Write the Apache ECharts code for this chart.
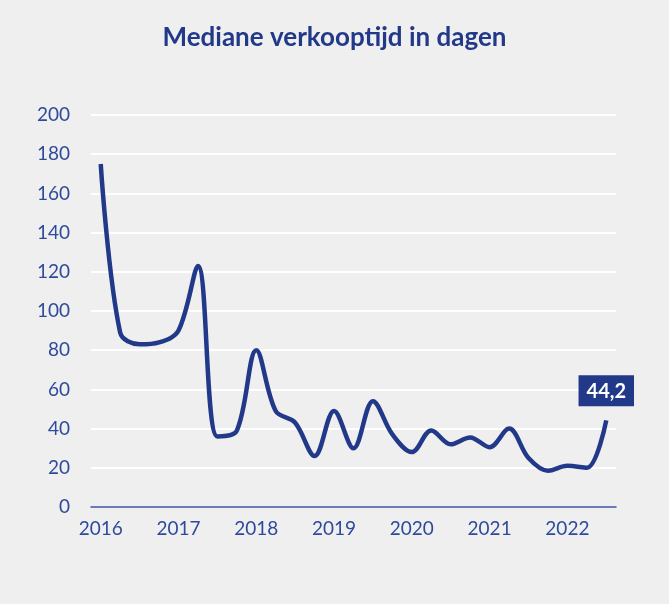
<!DOCTYPE html>
<html><head><meta charset="utf-8">
<script src="https://cdn.jsdelivr.net/npm/echarts@6/dist/echarts.min.js"></script>
<style>html,body{margin:0;padding:0;background:#efefef;}#c{width:669px;height:604px;}</style>
</head><body><div id="c"></div>
<script>
const title = 'Mediane verkooptijd in dagen';
const quarters = ['2016 K1','2016 K2','2016 K3','2016 K4','2017 K1','2017 K2','2017 K3','2017 K4',
  '2018 K1','2018 K2','2018 K3','2018 K4','2019 K1','2019 K2','2019 K3','2019 K4',
  '2020 K1','2020 K2','2020 K3','2020 K4','2021 K1','2021 K2','2021 K3','2021 K4',
  '2022 K1','2022 K2','2022 K3'];
const days = [175, 89, 83, 84, 90, 123, 36, 39, 80, 49, 43, 26, 49, 30, 54, 37, 28, 39, 32, 35.5, 30.5, 40, 25, 18.5, 21, 20, 44.2];
const yTicks = {min: 0, max: 200, interval: 20};

const navy = '#22398a';
const lastIdx = days.length - 1;
const chart = echarts.init(document.getElementById('c'));
chart.setOption({
  backgroundColor: '#efefef',
  animation: false,
  title: {text: title, left: 'center', top: 20,
    textStyle: {color: navy, fontSize: 26, fontWeight: 'bold', fontFamily: 'Lato'}},
  grid: {left: 91, right: 53, top: 115, bottom: 97},
  xAxis: {type: 'category', data: quarters, boundaryGap: true,
    axisLine: {lineStyle: {color: '#3a52a0', width: 1.5}},
    axisTick: {show: false},
    axisLabel: {interval: 3, color: '#2e4a9b', fontSize: 19, margin: 12, fontFamily: 'Lato',
      formatter: v => v.split(' ')[0]}},
  yAxis: {type: 'value', min: yTicks.min, max: yTicks.max, interval: yTicks.interval,
    axisLine: {show: false}, axisTick: {show: false},
    splitLine: {lineStyle: {color: '#ffffff', width: 2}},
    axisLabel: {color: '#2e4a9b', fontSize: 19, margin: 21, fontFamily: 'Lato'}},
  series: [{type: 'line',
    data: days.map((v, i) => i === lastIdx ? {value: v, label: {show: true}} : v),
    smooth: 0.35, symbol: 'circle', symbolSize: 0, showSymbol: true, showAllSymbol: true,
    itemStyle: {color: navy},
    lineStyle: {color: navy, width: 4.5},
    label: {show: false, position: 'top', distance: 14,
      formatter: p => String(p.value).replace('.', ','),
      backgroundColor: navy, color: '#ffffff', fontSize: 20, fontWeight: 'bold', fontFamily: 'Lato',
      padding: [6, 8, 5, 8]}}]
});
</script></body></html>
